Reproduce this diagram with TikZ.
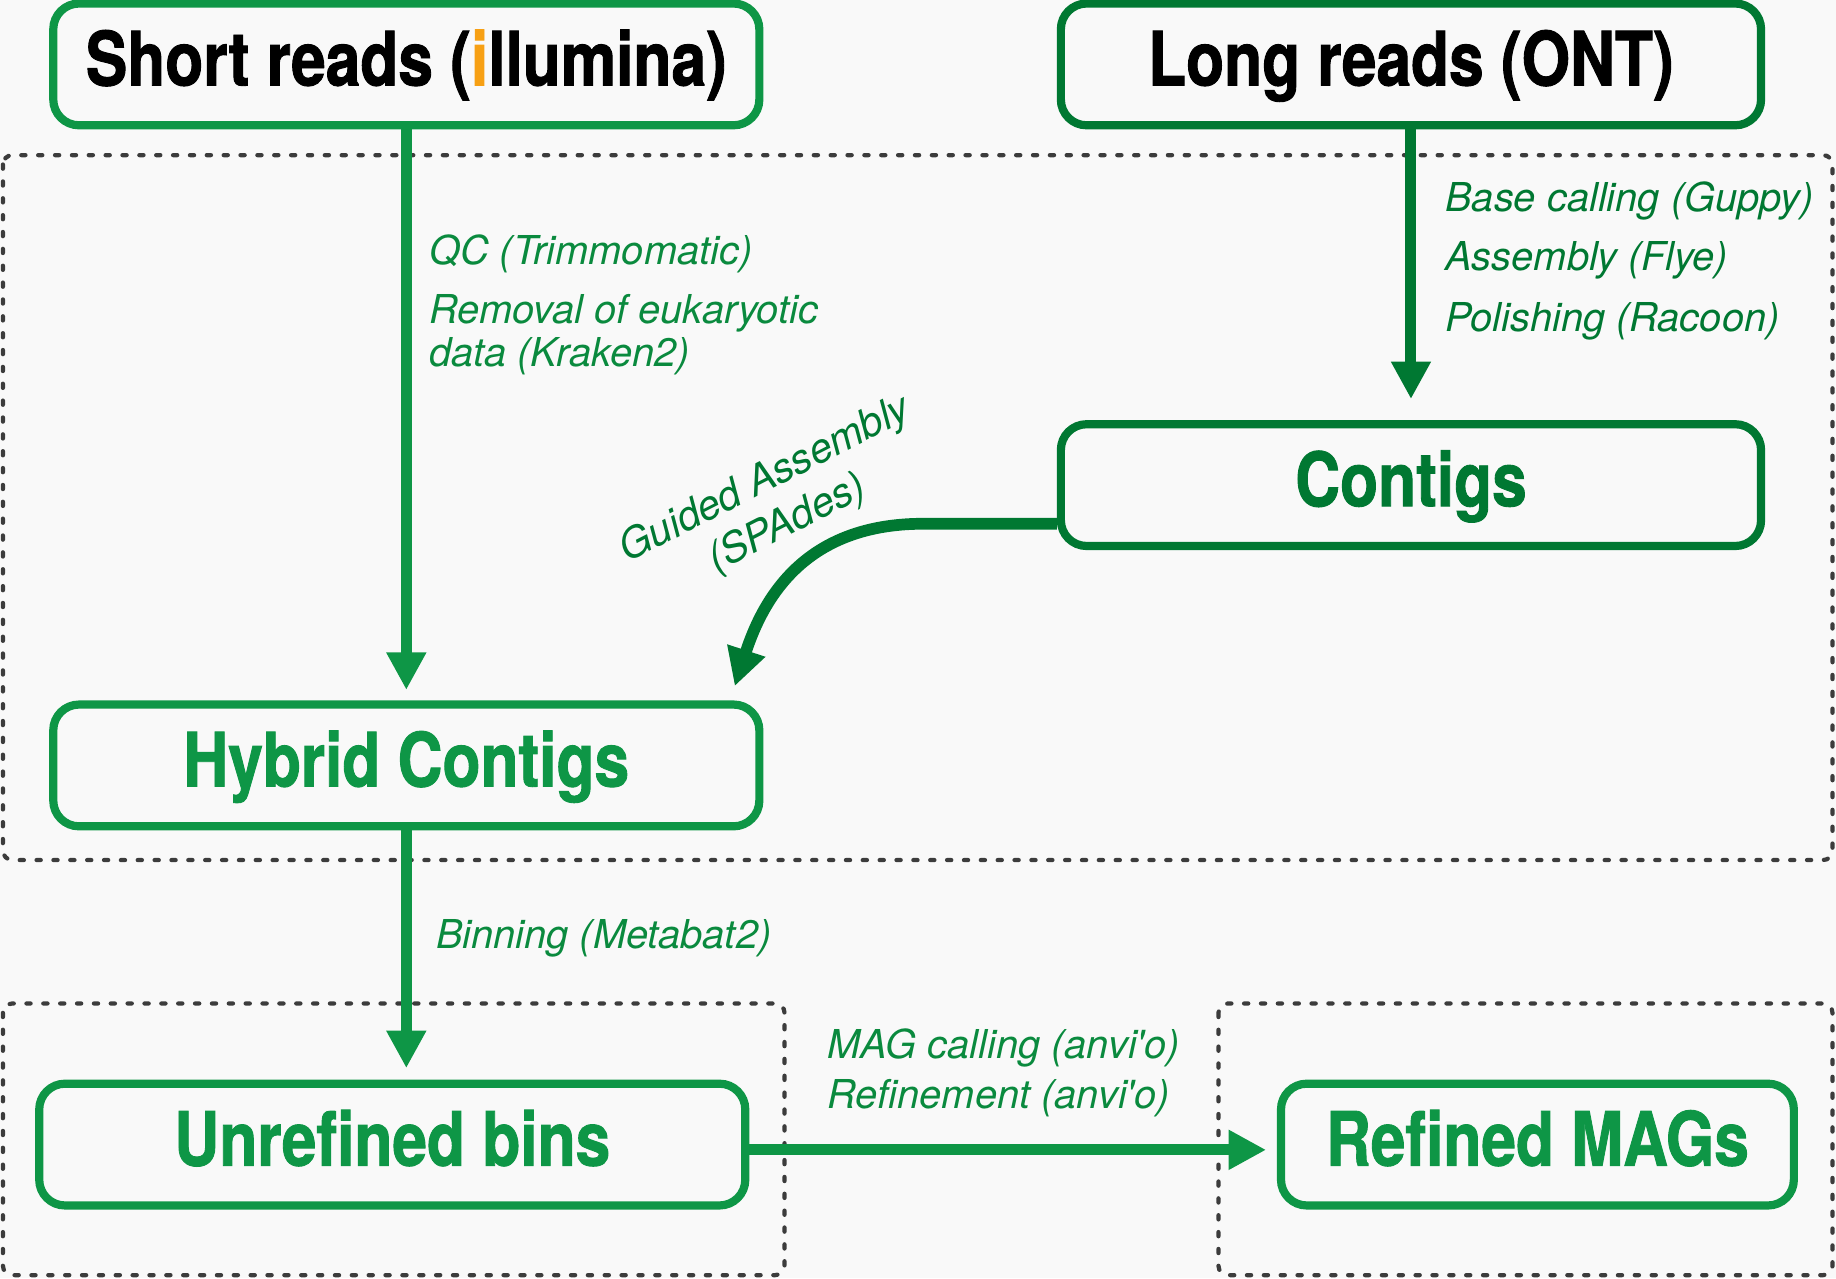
\documentclass[tikz,border=0pt]{standalone}
\usepackage{fontspec}
\setmainfont{TeX Gyre Heros}
\newfontfamily\condfont[FakeStretch=0.83,FakeBold=1.2]{TeX Gyre Heros}
\newfontfamily\lblfont{TeX Gyre Heros}
\usetikzlibrary{arrows.meta}
\definecolor{bgc}{RGB}{249,249,249}
\definecolor{lgreen}{RGB}{14,150,70}
\definecolor{dgreen}{RGB}{0,120,50}
\definecolor{lgtext}{RGB}{10,138,62}
\definecolor{illum}{RGB}{247,160,20}
\definecolor{dotgrey}{RGB}{60,60,60}
\begin{document}
\begin{tikzpicture}[x=0.5pt,y=-0.5pt,
  stage/.style={draw, line width=3.5pt, rounded corners=11pt, inner sep=0pt,
    text height=23pt, text depth=5pt, minimum height=52pt,
    font=\condfont\bfseries\fontsize{32pt}{36pt}\selectfont},
  lbl/.style={anchor=base west, inner sep=0pt,
    font=\lblfont\itshape\fontsize{17pt}{21pt}\selectfont},
  flow/.style={line width=4.7pt, -{Triangle[length=16pt,width=16pt]}},
  group/.style={draw=dotgrey, line width=1.8pt, line cap=round,
    dash pattern=on 1.8pt off 5.4pt, rounded corners=4pt}]
\useasboundingbox (0,0) rectangle (1568,1091.6);
\fill[bgc] (0,0) rectangle (1568,1091.6);

% grouping frames
\draw[group] (2.5,132.5) rectangle (1565,734.5);
\draw[group] (2.5,857) rectangle (670,1089);
\draw[group] (1040.6,857) rectangle (1565,1089);

% stages
\node[stage, draw=lgreen, minimum width=301.5pt] (short) at (347,55)
  {Short reads (\textcolor{illum}{i}llumina)};
\node[stage, draw=dgreen, minimum width=299pt] (long) at (1205,55)
  {Long reads (ONT)};
\node[stage, draw=dgreen, text=dgreen, minimum width=299pt] (contigs) at (1205,414.3)
  {Contigs};
\node[stage, draw=lgreen, text=lgreen, minimum width=301.5pt] (hybrid) at (347,653.7)
  {Hybrid Contigs};
\node[stage, draw=lgreen, text=lgreen, minimum width=301.5pt] (unref) at (335,977.5)
  {Unrefined bins};
\node[stage, draw=lgreen, text=lgreen, minimum width=219pt] (refined) at (1313,977.5)
  {Refined MAGs};

% connectors
\draw[flow, lgreen, shorten >=4.5pt] (short) -- (hybrid);
\draw[flow, dgreen, shorten >=9pt] (long) -- (contigs);
\draw[flow, lgreen, shorten >=4.9pt] (hybrid.south) -- (hybrid.south |- unref.north);
\draw[flow, lgreen, shorten >=4.6pt] ([yshift=-2.25pt]unref.east) -- ([yshift=-2.25pt]refined.west);
\coordinate (gtip) at (627.5,586);
\draw[flow, dgreen, line width=5pt] ([yshift=-16.5pt]contigs.west) -- ++(-114,0)
  .. controls +(-85,0) and (658,492) .. (gtip);

% labels
\node[lbl, text=lgtext] (qc) at (366,226.3) {QC (Trimmomatic)};
\node[lbl, text=lgtext] (rem) at (366,276.7) {Removal of eukaryotic};
\node[lbl, text=lgtext] (kraken) at (366,313) {data (Kraken2)};
\node[lbl, text=dgreen] (guppy) at (1234,180.2) {Base calling (Guppy)};
\node[lbl, text=dgreen] (flye) at (1234,231.4) {Assembly (Flye)};
\node[lbl, text=dgreen] (racoon) at (1234,282.7) {Polishing (Racoon)};
\node[lbl, text=lgtext] (binning) at (372,809.8) {Binning (Metabat2)};
\node[lbl, text=lgtext] (magcall) at (706.3,903.8) {MAG calling (anvi'o)};
\node[lbl, text=lgtext] (refine) at (706.3,946.5) {Refinement (anvi'o)};
\node[inner sep=0pt, text=dgreen, rotate=27, align=center,
  font=\lblfont\itshape\fontsize{17.5pt}{21pt}\selectfont] (guided) at (663,429)
  {Guided Assembly\\(SPAdes)};
\end{tikzpicture}
\end{document}
